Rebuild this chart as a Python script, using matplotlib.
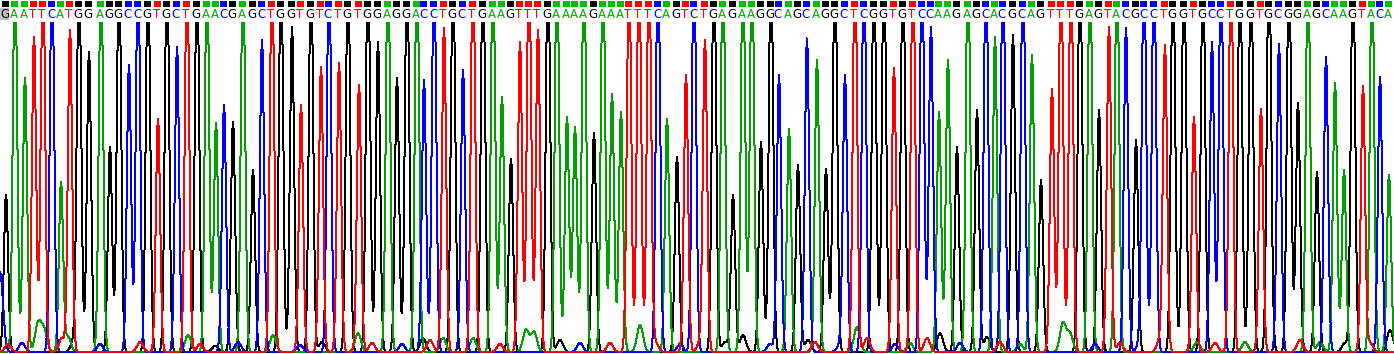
import numpy as np
import matplotlib
matplotlib.use("Agg")
import matplotlib.pyplot as plt
from matplotlib.patches import Rectangle

# base calls and trace peaks
sequence = ("GAATTCATGGAGGCCGTGCTGAACGAGCTGGTGTCTGTGGAGGACCTGCTGAAGTTTGAA"
            "AAGAAATTTCAGTCTGAGAAGGCAGCAGGCTCGGTGTCCAAGAGCACGCAGTTTGAGTAC"
            "GCCTGGTGCCTGGTGCGGAGCAAGTACA")

# peak location of each base call (trace scan units)
peak_pos = [6, 15, 25, 34, 43, 52, 61, 70, 79, 89,
            101, 110, 119, 129, 138, 148, 158, 167, 177, 187,
            197, 207, 216, 224, 233, 243, 253, 262, 272, 281,
            292, 301, 311, 321, 329, 339, 348, 359, 368, 378,
            388, 397, 407, 417, 424, 434, 444, 453, 463, 473,
            483, 493, 502, 511, 520, 529, 538, 548, 557, 567,
            575, 584, 594, 603, 612, 621, 629, 639, 649, 658,
            667, 677, 686, 694, 705, 714, 723, 733, 743, 752,
            761, 771, 779, 789, 798, 807, 817, 826, 835, 845,
            855, 864, 874, 884, 894, 903, 913, 922, 931, 939,
            948, 957, 968, 977, 986, 995, 1003, 1013, 1023, 1032,
            1041, 1052, 1061, 1071, 1080, 1090, 1099, 1109, 1117, 1126,
            1136, 1144, 1154, 1165, 1173, 1184, 1194, 1203, 1212, 1221,
            1231, 1240, 1251, 1261, 1269, 1279, 1289, 1298, 1308, 1317,
            1326, 1335, 1344, 1353, 1363, 1372, 1380, 1389]

# peak signal of each base call (off-scale peaks ~400)
peak_height = [157, 400, 274, 315, 400, 400, 169, 322, 400, 300,
               400, 205, 400, 287, 400, 400, 233, 400, 305, 400,
               400, 400, 229, 247, 230, 400, 182, 312, 400, 400,
               325, 247, 400, 285, 400, 289, 400, 267, 400, 310,
               400, 274, 400, 400, 272, 400, 324, 400, 282, 400,
               400, 400, 255, 193, 310, 400, 322, 400, 400, 235,
               225, 400, 219, 400, 258, 240, 400, 400, 400, 400,
               233, 195, 277, 400, 310, 400, 400, 157, 400, 400,
               210, 400, 277, 223, 187, 314, 292, 183, 400, 275,
               400, 400, 400, 400, 284, 400, 400, 400, 325, 240,
               292, 205, 400, 242, 400, 315, 400, 317, 400, 297,
               172, 263, 400, 400, 400, 400, 242, 325, 400, 324,
               212, 400, 400, 304, 400, 400, 235, 400, 310, 400,
               400, 400, 400, 243, 400, 308, 400, 249, 400, 180,
               295, 269, 182, 400, 265, 400, 275, 177]

# small background bumps: (position, channel, height)
minor_peaks = [(0, 'C', 80), (8, 'T', 8), (22, 'C', 9), (38, 'A', 28), (44, 'A', 22),
               (62, 'T', 14), (68, 'A', 15), (74, 'G', 12), (100, 'C', 8), (140, 'T', 10),
               (188, 'A', 17), (200, 'T', 8), (215, 'G', 6), (238, 'C', 10), (273, 'A', 17),
               (300, 'C', 7), (322, 'G', 10), (358, 'A', 19), (372, 'T', 9), (402, 'C', 8),
               (423, 'G', 14), (430, 'T', 12), (443, 'A', 14), (473, 'A', 14), (500, 'T', 8),
               (526, 'A', 22), (534, 'A', 20), (560, 'G', 12), (580, 'C', 9), (610, 'T', 9),
               (640, 'A', 27), (655, 'T', 10), (680, 'C', 8), (700, 'T', 9), (725, 'G', 10),
               (743, 'G', 17), (770, 'C', 8), (808, 'G', 12), (815, 'T', 10), (840, 'C', 7),
               (857, 'A', 25), (867, 'T', 14), (895, 'C', 8), (910, 'A', 9), (927, 'T', 14),
               (940, 'G', 19), (960, 'C', 9), (987, 'G', 15), (1000, 'T', 10), (1020, 'A', 8),
               (1063, 'A', 29), (1070, 'A', 18), (1095, 'C', 8), (1120, 'T', 9), (1140, 'C', 10),
               (1160, 'T', 12), (1197, 'A', 10), (1215, 'T', 9), (1245, 'A', 10), (1270, 'G', 8),
               (1300, 'T', 12), (1320, 'A', 10), (1345, 'G', 9), (1370, 'T', 9), (1390, 'G', 22)]

trace_colors = {'A': '#00a000', 'C': '#0000ff', 'G': '#000000', 'T': '#ff0000'}
text_colors = {'A': '#00b000', 'C': '#0000ff', 'G': '#000000', 'T': '#ff0000'}
box_colors = {'A': '#00c000', 'C': '#0000ff', 'G': '#000000', 'T': '#ff0000'}

W, H = 1394, 354
top = 22
fig = plt.figure(figsize=(W / 100, H / 100), dpi=100)
fig.patch.set_facecolor('white')

ax = fig.add_axes([0, 0, 1, (H - top) / H])
ax.set_xlim(0, W)
ax.set_ylim(-2, H - top - 2)
ax.axis('off')

x = np.linspace(0, W, W * 4)
sigma = 2.1
for base in 'GACT':
    y = np.zeros_like(x)
    for b, p, h in zip(sequence, peak_pos, peak_height):
        if b == base:
            y += h * np.exp(-(x - p) ** 2 / (2 * sigma ** 2))
    for p, b, h in minor_peaks:
        if b == base:
            y += h * np.exp(-(x - p) ** 2 / (2 * 3.0 ** 2))
    y = np.minimum(y, H - top - 3)
    ax.plot(x, y, color=trace_colors[base], lw=0.72, antialiased=False)

# base call strip
tx = fig.add_axes([0, (H - top) / H, 1, top / H])
tx.set_xlim(0, W)
tx.set_ylim(top, 0)
tx.axis('off')
tx.add_patch(Rectangle((0, 8), 9, 12, color='#c0c0c0', lw=0))
for b, p in zip(sequence, peak_pos):
    tx.add_patch(Rectangle((p - 4, 0.5), 7, 6.5, color=box_colors[b], lw=0))
    tx.text(p - 1, 14, b, color=text_colors[b], fontsize=8.5, family='DejaVu Sans',
            ha='center', va='center')

fig.savefig('out.png', dpi=100, facecolor='white')
